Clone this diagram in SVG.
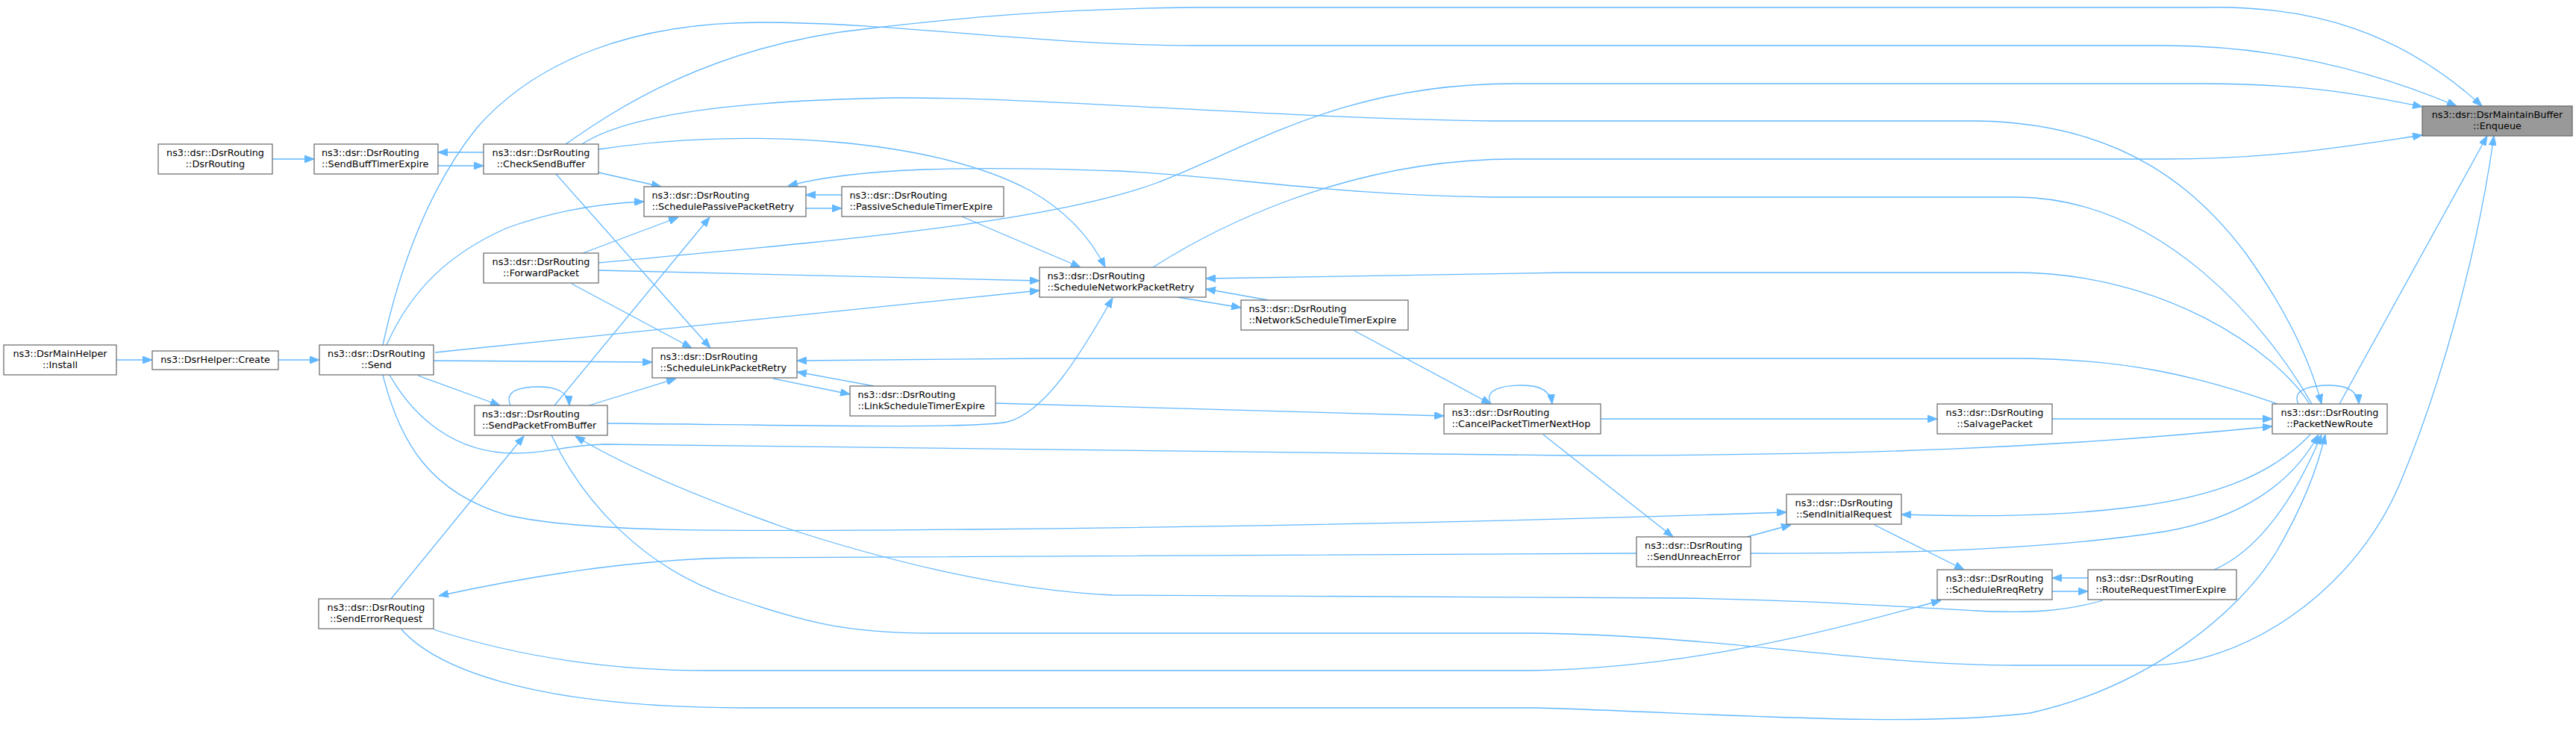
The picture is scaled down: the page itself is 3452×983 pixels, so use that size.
<svg xmlns="http://www.w3.org/2000/svg" width="3452" height="983" viewBox="0 0 3452 983">
<style>
.n rect{fill:#ffffff;stroke:#666666;stroke-width:1.2}
.f rect{fill:#999999;stroke:#666666;stroke-width:1.2}
text{font-family:"DejaVu Sans","Liberation Sans",sans-serif;font-size:12.8px;fill:#000000}
.c{text-anchor:middle}
.l{text-anchor:start}
#edges path{fill:none;stroke:#63b8ff;stroke-width:1.3;marker-end:url(#ah)}
</style>
<defs>
<marker id="ah" viewBox="0 0 13 10" refX="13" refY="5" markerWidth="13" markerHeight="10" markerUnits="userSpaceOnUse" orient="auto">
<path d="M0,0 L13,5 L0,10 z" fill="#63b8ff" stroke="#63b8ff" stroke-width="1"/>
</marker>
</defs>
<rect x="0" y="0" width="3452" height="983" fill="#ffffff"/>
<g id="edges">
<path d="M156,482 L204,482"/>
<path d="M373,482 L428,482"/>
<path d="M365,213 L421,213"/>
<path d="M648,204 L587,204"/>
<path d="M587,222 L648,222"/>
<path d="M802,231 L886,250"/>
<path d="M745,233 L952,466"/>
<path d="M802,200 C1000,170 1250,185 1380,255 C1430,283 1462,320 1481,358"/>
<path d="M758,193 C820,150 950,60 1166,38 C1280,25 1400,12 1600,10 L2950,10 C3100,6 3220,45 3326,142"/>
<path d="M513,462 C535,360 575,250 640,170 C720,80 850,30 1020,30 C1200,30 1400,61 1600,61 L2900,61 C3050,61 3180,95 3292,142"/>
<path d="M802,352 C1100,324 1400,300 1550,245 C1680,195 1800,112 2030,112 L2950,112 C3100,112 3180,130 3246,143"/>
<path d="M1545,358 C1620,310 1800,213 2030,213 L2900,213 C3050,213 3150,195 3246,181"/>
<path d="M3135,541 L3333,182"/>
<path d="M739,583 C780,670 860,760 980,800 C1080,833 1130,848 1250,848 L2050,848 C2300,850 2500,891 2700,891 L2880,891 C3000,891 3150,800 3215,650 C3270,520 3320,340 3342,182"/>
<path d="M518,462 C550,390 600,340 680,305 C750,280 810,272 863,270"/>
<path d="M583,472 L1393,389"/>
<path d="M581,483 L874,485"/>
<path d="M560,503 L670,543"/>
<path d="M513,502 C535,590 575,660 680,690 C790,715 1000,711 1300,709 C1700,705 2100,696 2394,686"/>
<path d="M522,502 C555,560 610,607 690,607 C735,607 760,596 810,595 C1200,597 1700,608 2100,610 C2500,610 2750,600 3045,571"/>
<path d="M781,339 L909,291"/>
<path d="M802,362 L1393,376"/>
<path d="M766,380 L927,466"/>
<path d="M743,543 L951,291"/>
<path d="M789,543 L906,507"/>
<path d="M814,567 C1050,569 1300,575 1350,565 C1400,552 1445,480 1491,399"/>
<path d="M524,802 L702,584"/>
<path d="M2818,804 C2770,818 2720,822 2650,818 C2500,810 2400,803 2250,801 L1490,797 C1350,790 1200,755 1050,706 C920,660 830,620 771,584"/>
<path d="M581,843 C680,875 800,898 950,898 L2050,898 C2250,895 2430,852 2601,804"/>
<path d="M538,843 C580,890 700,948 1000,948 L2060,948 C2300,955 2550,975 2720,955 C2880,920 3000,820 3050,740 C3085,680 3105,630 3116,582"/>
<path d="M2193,741 C1800,745 1400,747 1000,747 C880,747 740,765 588,798"/>
<path d="M2341,719 L2400,703"/>
<path d="M2346,741 C2550,742 2750,735 2900,712 C3000,695 3070,650 3107,582"/>
<path d="M3096,582 C3050,630 2980,665 2850,680 C2750,692 2650,692 2548,689"/>
<path d="M2967,763 C3020,740 3070,680 3111,582"/>
<path d="M2512,703 L2632,763"/>
<path d="M2750,792 L2798,792"/>
<path d="M2798,774 L2750,774"/>
<path d="M2068,582 L2242,719"/>
<path d="M2145,561 L2596,561"/>
<path d="M2750,561 L3045,561"/>
<path d="M1998,541 C1988,522 2012,516 2040,516 C2064,516 2078,524 2080,541"/>
<path d="M1815,443 L1998,541"/>
<path d="M1334,540 L1935,557"/>
<path d="M1578,398 L1663,412"/>
<path d="M1700,402 L1616,387"/>
<path d="M3095,541 C3050,470 2900,365 2700,365 L2100,365 L1616,373"/>
<path d="M3098,541 C3040,440 2900,264 2700,264 L2000,264 C1800,262 1650,237 1500,229 C1300,222 1150,224 1056,249"/>
<path d="M3052,541 C2950,505 2850,480 2700,480 L1400,480 L1068,483"/>
<path d="M780,193 C830,160 950,135 1200,131 C1400,130 1700,158 2000,162 L2650,162 C2850,165 2950,260 3010,340 C3060,410 3095,480 3111,541"/>
<path d="M1080,279 L1128,279"/>
<path d="M1128,261 L1080,261"/>
<path d="M1289,290 L1448,358"/>
<path d="M1036,507 L1139,528"/>
<path d="M1171,517 L1068,498"/>
<path d="M684,543 C675,522 700,518 722,518 C745,518 762,525 763,543"/>
<path d="M3080,541 C3070,520 3100,516 3122,516 C3145,516 3160,524 3161,541"/>
</g>
<g id="node-install" class="n"><rect x="5" y="462" width="151" height="40"/><text class="c" x="80.5" y="478">ns3::DsrMainHelper</text><text class="c" x="80.5" y="493">::Install</text></g>
<g id="node-create" class="n"><rect x="204" y="470" width="169" height="25"/><text class="c" x="288.5" y="486">ns3::DsrHelper::Create</text></g>
<g id="node-dsrrouting" class="n"><rect x="212" y="193" width="153" height="40"/><text class="c" x="288.5" y="209">ns3::dsr::DsrRouting</text><text class="c" x="288.5" y="224">::DsrRouting</text></g>
<g id="node-sendbufftimerexpire" class="n"><rect x="421" y="193" width="166" height="40"/><text class="l" x="431" y="209">ns3::dsr::DsrRouting</text><text class="l" x="431" y="224">::SendBuffTimerExpire</text></g>
<g id="node-checksendbuffer" class="n"><rect x="648" y="193" width="154" height="40"/><text class="c" x="725" y="209">ns3::dsr::DsrRouting</text><text class="c" x="725" y="224">::CheckSendBuffer</text></g>
<g id="node-forwardpacket" class="n"><rect x="648" y="339" width="154" height="40"/><text class="c" x="725" y="355">ns3::dsr::DsrRouting</text><text class="c" x="725" y="370">::ForwardPacket</text></g>
<g id="node-send" class="n"><rect x="428" y="462" width="153" height="40"/><text class="c" x="504.5" y="478">ns3::dsr::DsrRouting</text><text class="c" x="504.5" y="493">::Send</text></g>
<g id="node-sendpacketfrombuffer" class="n"><rect x="636" y="543" width="178" height="40"/><text class="l" x="646" y="559">ns3::dsr::DsrRouting</text><text class="l" x="646" y="574">::SendPacketFromBuffer</text></g>
<g id="node-senderrorrequest" class="n"><rect x="427" y="802" width="154" height="40"/><text class="c" x="504" y="818">ns3::dsr::DsrRouting</text><text class="c" x="504" y="833">::SendErrorRequest</text></g>
<g id="node-schedulepassivepacketretry" class="n"><rect x="863" y="250" width="217" height="40"/><text class="l" x="873.5" y="266">ns3::dsr::DsrRouting</text><text class="l" x="873.5" y="281">::SchedulePassivePacketRetry</text></g>
<g id="node-passivescheduletimerexpire" class="n"><rect x="1128" y="250" width="217" height="40"/><text class="l" x="1138.5" y="266">ns3::dsr::DsrRouting</text><text class="l" x="1138.5" y="281">::PassiveScheduleTimerExpire</text></g>
<g id="node-schedulelinkpacketretry" class="n"><rect x="874" y="466" width="194" height="40"/><text class="l" x="884.5" y="482">ns3::dsr::DsrRouting</text><text class="l" x="884.5" y="497">::ScheduleLinkPacketRetry</text></g>
<g id="node-linkscheduletimerexpire" class="n"><rect x="1139" y="517" width="195" height="40"/><text class="l" x="1149.5" y="533">ns3::dsr::DsrRouting</text><text class="l" x="1149.5" y="548">::LinkScheduleTimerExpire</text></g>
<g id="node-schedulenetworkpacketretry" class="n"><rect x="1393" y="358" width="223" height="40"/><text class="l" x="1403.5" y="374">ns3::dsr::DsrRouting</text><text class="l" x="1403.5" y="389">::ScheduleNetworkPacketRetry</text></g>
<g id="node-networkscheduletimerexpire" class="n"><rect x="1663" y="402" width="224" height="40"/><text class="l" x="1673.5" y="418">ns3::dsr::DsrRouting</text><text class="l" x="1673.5" y="433">::NetworkScheduleTimerExpire</text></g>
<g id="node-cancelpackettimernexthop" class="n"><rect x="1935" y="541" width="210" height="40"/><text class="l" x="1945.5" y="557">ns3::dsr::DsrRouting</text><text class="l" x="1945.5" y="572">::CancelPacketTimerNextHop</text></g>
<g id="node-salvagepacket" class="n"><rect x="2596" y="541" width="154" height="40"/><text class="c" x="2673" y="557">ns3::dsr::DsrRouting</text><text class="c" x="2673" y="572">::SalvagePacket</text></g>
<g id="node-packetnewroute" class="n"><rect x="3045" y="541" width="154" height="40"/><text class="c" x="3122" y="557">ns3::dsr::DsrRouting</text><text class="c" x="3122" y="572">::PacketNewRoute</text></g>
<g id="node-enqueue" class="f"><rect x="3246" y="142" width="201" height="40"/><text class="c" x="3346.5" y="158">ns3::dsr::DsrMaintainBuffer</text><text class="c" x="3346.5" y="173">::Enqueue</text></g>
<g id="node-sendinitialrequest" class="n"><rect x="2394" y="662" width="154" height="40"/><text class="c" x="2471" y="678">ns3::dsr::DsrRouting</text><text class="c" x="2471" y="693">::SendInitialRequest</text></g>
<g id="node-sendunreacherror" class="n"><rect x="2193" y="719" width="153" height="40"/><text class="c" x="2269.5" y="735">ns3::dsr::DsrRouting</text><text class="c" x="2269.5" y="750">::SendUnreachError</text></g>
<g id="node-schedulerreqretry" class="n"><rect x="2596" y="763" width="154" height="40"/><text class="c" x="2673" y="779">ns3::dsr::DsrRouting</text><text class="c" x="2673" y="794">::ScheduleRreqRetry</text></g>
<g id="node-routerequesttimerexpire" class="n"><rect x="2798" y="763" width="199" height="40"/><text class="l" x="2808.5" y="779">ns3::dsr::DsrRouting</text><text class="l" x="2808.5" y="794">::RouteRequestTimerExpire</text></g>
</svg>
